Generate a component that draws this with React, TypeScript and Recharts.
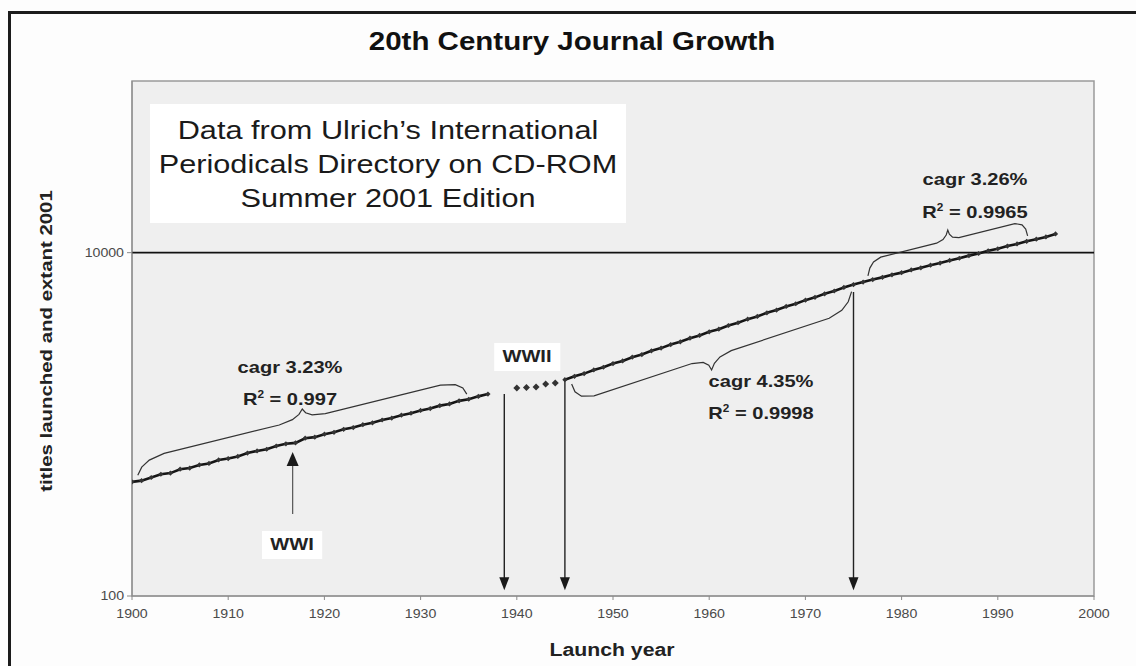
import React from "react";
import {
  ComposedChart,
  Line,
  XAxis,
  YAxis,
  ReferenceArea,
  ReferenceLine,
  ReferenceDot,
} from "recharts";

// x axis / y axis ticks
const decadeTicks = [1900, 1910, 1920, 1930, 1940, 1950, 1960, 1970, 1980, 1990, 2000];
const titleTicks = [100, 10000];

// 1900-1937, before WWII
const earlyYears = [
  1900, 1901, 1902, 1903, 1904, 1905, 1906, 1907, 1908, 1909, 1910, 1911, 1912,
  1913, 1914, 1915, 1916, 1917, 1918, 1919, 1920, 1921, 1922, 1923, 1924, 1925,
  1926, 1927, 1928, 1929, 1930, 1931, 1932, 1933, 1934, 1935, 1936, 1937,
];
const earlyTitles = [
  462, 470, 490, 512, 520, 548, 556, 580, 592, 620, 632, 650, 680, 700, 716, 748,
  770, 780, 830, 842, 876, 898, 935, 958, 995, 1020, 1060, 1088, 1130, 1160, 1205,
  1235, 1285, 1315, 1370, 1400, 1455, 1500,
];

// war years, drawn as loose dots
const warYears = [1940, 1941, 1942, 1943, 1944];
const warTitles = [1630, 1640, 1650, 1720, 1740];

// 1945-1996
const postYears = [
  1945, 1946, 1947, 1948, 1949, 1950, 1951, 1952, 1953, 1954, 1955, 1956, 1957,
  1958, 1959, 1960, 1961, 1962, 1963, 1964, 1965, 1966, 1967, 1968, 1969, 1970,
  1971, 1972, 1973, 1974, 1975, 1976, 1977, 1978, 1979, 1980, 1981, 1982, 1983,
  1984, 1985, 1986, 1987, 1988, 1989, 1990, 1991, 1992, 1993, 1994, 1995, 1996,
];
const postTitles = [
  1820, 1905, 1975, 2075, 2150, 2260, 2340, 2460, 2550, 2680, 2780, 2915, 3025,
  3175, 3295, 3460, 3585, 3765, 3905, 4100, 4250, 4465, 4630, 4860, 5040, 5290,
  5490, 5760, 5980, 6270, 6520, 6740, 6970, 7180, 7430, 7650, 7930, 8160, 8450,
  8700, 9010, 9280, 9610, 9890, 10250, 10540, 10930, 11240, 11650, 11980, 12350,
  12850,
];

const toRows = (years: number[], titles: number[]) =>
  years.map((year, i) => ({ year, titles: titles[i] }));

const earlyRows = toRows(earlyYears, earlyTitles);
const warRows = toRows(warYears, warTitles);
const postRows = toRows(postYears, postTitles);

// brace follows the log-linear trend between two years of a series
const valueAt = (years: number[], titles: number[], y: number) => titles[years.indexOf(y)];

const braceShape = [
  [0, 0.25], [0.012, 0.6], [0.035, 0.85], [0.08, 1], [0.43, 1], [0.47, 1.1],
  [0.49, 1.28], [0.5, 1.5], [0.51, 1.28], [0.53, 1.1], [0.57, 1], [0.92, 1],
  [0.965, 0.85], [0.988, 0.6], [1, 0.25],
];

const makeBrace = (
  years: number[],
  titles: number[],
  fitFrom: number,
  fitTo: number,
  from: number,
  to: number,
  lift: number
) => {
  const a = valueAt(years, titles, fitFrom);
  const b = valueAt(years, titles, fitTo);
  return braceShape.map(([t, k]) => {
    const year = from + (to - from) * t;
    const trend = a * Math.pow(b / a, (year - fitFrom) / (fitTo - fitFrom));
    return { year, titles: trend * Math.pow(10, lift * k) };
  });
};

const brace1 = makeBrace(earlyYears, earlyTitles, 1900, 1937, 1900.6, 1934.8, 0.12);
const brace2 = makeBrace(postYears, postTitles, 1945, 1975, 1945.7, 1974.8, -0.15);
const brace3 = makeBrace(postYears, postTitles, 1975, 1996, 1976.5, 1993.1, 0.12);

// arrows: [year, from, to]
const downArrows = [
  [1938.7, 1500, 108],
  [1945, 1800, 108],
  [1975, 5900, 108],
];
const wwiArrow = [1916.7, 300, 690];

const font = "'Liberation Sans', Arial, sans-serif";
const stretch = 1.18; // the source picture is a bit wide

const Diamond = (props: any) => {
  const { cx, cy, index, size = 2.6 } = props;
  if (cx == null || cy == null) return <g key={`n-${index}`} />;
  return (
    <path
      key={`d-${index}`}
      d={`M${cx},${cy - size}L${cx + size},${cy}L${cx},${cy + size}L${cx - size},${cy}Z`}
      fill="#333"
    />
  );
};

const XTick = ({ x, y, payload }: any) => (
  <g transform={`translate(${x},${y}) scale(${stretch},1)`}>
    <text textAnchor="middle" dy="0.71em" fontSize={12} fill="#4a4a4a" fontFamily={font}>
      {payload.value}
    </text>
  </g>
);

const YTick = ({ x, y, payload }: any) => (
  <g transform={`translate(${x},${y}) scale(${stretch},1)`}>
    <text textAnchor="end" dy="0.355em" fontSize={12} fill="#4a4a4a" fontFamily={font}>
      {payload.value}
    </text>
  </g>
);

const ArrowDown = ({ cx, cy }: any) => (
  <path d={`M${cx - 5},${cy - 13}L${cx + 5},${cy - 13}L${cx},${cy}Z`} fill="#1a1a1a" />
);
const ArrowUp = ({ cx, cy }: any) => (
  <path d={`M${cx - 6},${cy + 14}L${cx + 6},${cy + 14}L${cx},${cy}Z`} fill="#1a1a1a" />
);

const Note = ({ x, y, children, box, size = 17 }: any) => (
  <div
    style={{
      position: "absolute",
      left: x,
      top: y,
      transform: `translate(-50%, -50%) scaleX(${stretch})`,
      fontFamily: font,
      fontWeight: 700,
      fontSize: size,
      color: "#222",
      whiteSpace: "nowrap",
      textAlign: "center",
      lineHeight: "20px",
      background: box ? "#fff" : "transparent",
      padding: box ? "4px 7px" : 0,
    }}
  >
    {children}
  </div>
);

const R2 = ({ v }: { v: string }) => (
  <span>
    R<sup style={{ fontSize: 10, verticalAlign: 7 }}>2</sup> = {v}
  </span>
);

const App = () => {
  return (
    <div
      style={{
        position: "fixed",
        left: 0,
        top: 0,
        width: 1136,
        height: 666,
        overflow: "hidden",
        background: "#fdfdfd",
      }}
    >
      <div
        style={{
          position: "absolute",
          left: 8,
          top: 11,
          width: 1150,
          height: 700,
          border: "3px solid #1c1c1c",
          boxSizing: "border-box",
        }}
      />
      <div style={{ position: "absolute", left: 0, top: 0 }}>
        <ComposedChart
          width={1136}
          height={666}
          margin={{ top: 81, right: 42, bottom: 40, left: 72 }}
        >
          <ReferenceArea
            x1={1900}
            x2={2000}
            y1={100}
            y2={100000}
            fill="#efefef"
            fillOpacity={1}
            stroke="#9a9a9a"
            strokeWidth={1.5}
          />
          <XAxis
            type="number"
            dataKey="year"
            domain={[1900, 2000]}
            ticks={decadeTicks}
            allowDataOverflow
            stroke="#8a8a8a"
            tickSize={4}
            tickMargin={9}
            tick={<XTick />}
            height={30}
          />
          <YAxis
            type="number"
            scale="log"
            domain={[100, 100000]}
            ticks={titleTicks}
            allowDataOverflow
            stroke="#8a8a8a"
            tickSize={5}
            tickMargin={3}
            tick={<YTick />}
            width={60}
          />
          <ReferenceLine y={10000} stroke="#111" strokeWidth={1.6} />

          {downArrows.map(([x, top, tip]) => (
            <ReferenceLine
              key={`a-${x}`}
              segment={[
                { x, y: top },
                { x, y: tip * 1.1 },
              ]}
              stroke="#222"
              strokeWidth={1.4}
            />
          ))}
          {downArrows.map(([x, , tip]) => (
            <ReferenceDot key={`h-${x}`} x={x} y={tip} r={0} shape={ArrowDown} />
          ))}
          <ReferenceLine
            segment={[
              { x: wwiArrow[0], y: wwiArrow[1] },
              { x: wwiArrow[0], y: wwiArrow[2] * 0.9 },
            ]}
            stroke="#555"
            strokeWidth={1.2}
          />
          <ReferenceDot x={wwiArrow[0]} y={wwiArrow[2]} r={0} shape={ArrowUp} />

          <Line
            data={brace1}
            dataKey="titles"
            stroke="#333"
            strokeWidth={1.2}
            dot={false}
            type="linear"
            isAnimationActive={false}
          />
          <Line
            data={brace2}
            dataKey="titles"
            stroke="#333"
            strokeWidth={1.2}
            dot={false}
            type="linear"
            isAnimationActive={false}
          />
          <Line
            data={brace3}
            dataKey="titles"
            stroke="#333"
            strokeWidth={1.2}
            dot={false}
            type="linear"
            isAnimationActive={false}
          />

          <Line
            data={earlyRows}
            dataKey="titles"
            stroke="#151515"
            strokeWidth={2.6}
            dot={Diamond}
            type="linear"
            isAnimationActive={false}
          />
          <Line
            data={warRows}
            dataKey="titles"
            stroke="none"
            dot={(p: any) => <Diamond {...p} size={3.5} />}
            isAnimationActive={false}
          />
          <Line
            data={postRows}
            dataKey="titles"
            stroke="#151515"
            strokeWidth={2.6}
            dot={Diamond}
            type="linear"
            isAnimationActive={false}
          />
        </ComposedChart>
      </div>

      <div
        style={{
          position: "absolute",
          left: 572,
          top: 41,
          transform: `translate(-50%, -50%) scaleX(${stretch})`,
          fontFamily: font,
          fontWeight: 700,
          fontSize: 25,
          color: "#111",
          whiteSpace: "nowrap",
        }}
      >
        20th Century Journal Growth
      </div>

      <div
        style={{
          position: "absolute",
          left: 47,
          top: 341,
          transform: `translate(-50%, -50%) rotate(-90deg) scaleX(1.2)`,
          fontFamily: font,
          fontWeight: 700,
          fontSize: 17,
          color: "#222",
          whiteSpace: "nowrap",
        }}
      >
        titles launched and extant 2001
      </div>

      <div
        style={{
          position: "absolute",
          left: 612,
          top: 650,
          transform: `translate(-50%, -50%) scaleX(${stretch})`,
          fontFamily: font,
          fontWeight: 700,
          fontSize: 18,
          color: "#222",
          whiteSpace: "nowrap",
        }}
      >
        Launch year
      </div>

      <div
        style={{
          position: "absolute",
          left: 150,
          top: 104,
          width: 476,
          height: 119,
          background: "#fff",
        }}
      />
      <div
        style={{
          position: "absolute",
          left: 388,
          top: 164,
          transform: `translate(-50%, -50%) scaleX(${stretch})`,
          fontFamily: font,
          fontSize: 26,
          lineHeight: "34px",
          color: "#1a1a1a",
          textAlign: "center",
          whiteSpace: "nowrap",
        }}
      >
        Data from Ulrich’s International
        <br />
        Periodicals Directory on CD-ROM
        <br />
        Summer 2001 Edition
      </div>

      <Note x={290} y={368}>cagr 3.23%</Note>
      <Note x={290} y={397}>
        <R2 v="0.997" />
      </Note>
      <Note x={292} y={545} box>
        WWI
      </Note>
      <Note x={527} y={357} box>
        WWII
      </Note>
      <Note x={761} y={382}>cagr 4.35%</Note>
      <Note x={761} y={411}>
        <R2 v="0.9998" />
      </Note>
      <Note x={975} y={180}>cagr 3.26%</Note>
      <Note x={975} y={210}>
        <R2 v="0.9965" />
      </Note>
    </div>
  );
};

export default App;
